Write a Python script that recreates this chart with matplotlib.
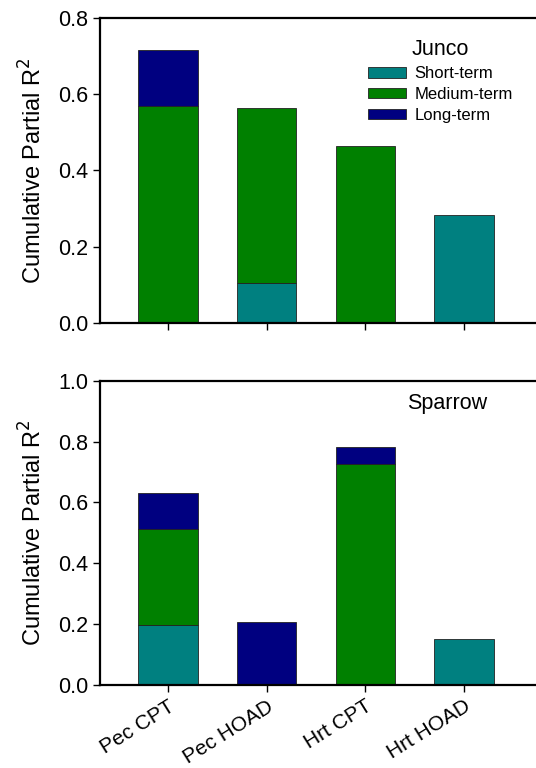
import numpy as np
import matplotlib.pyplot as plt

plt.rcParams['font.family'] = ['Liberation Sans', 'DejaVu Sans']

categories = ['Pec CPT', 'Pec HOAD', 'Hrt CPT', 'Hrt HOAD']
series_names = ['Short-term', 'Medium-term', 'Long-term']
colors = ['#008080', '#008000', '#000080']

# stacked partial R^2 (short, medium, long)
junco_short = [0.0, 0.104, 0.0, 0.283]
junco_medium = [0.570, 0.459, 0.464, 0.0]
junco_long = [0.146, 0.0, 0.0, 0.0]

sparrow_short = [0.196, 0.0, 0.0, 0.150]
sparrow_medium = [0.318, 0.0, 0.726, 0.0]
sparrow_long = [0.118, 0.208, 0.055, 0.0]

junco_ticks = [0.0, 0.2, 0.4, 0.6, 0.8]
sparrow_ticks = [0.0, 0.2, 0.4, 0.6, 0.8, 1.0]


def stacked(ax, parts):
    x = np.arange(len(categories))
    bottom = np.zeros(len(categories))
    for vals, name, col in zip(parts, series_names, colors):
        vals = np.array(vals)
        idx = vals > 0
        ax.bar(x[idx], vals[idx], width=0.6, bottom=bottom[idx], color=col,
               edgecolor='#222222', linewidth=0.6, label=name)
        bottom = bottom + vals
    ax.set_xlim(-0.69, 3.82)
    ax.set_xticks(x)
    for s in ['left', 'bottom', 'top']:
        ax.spines[s].set_linewidth(1.6)
    ax.spines['right'].set_visible(False)
    ax.tick_params(axis='both', direction='out', length=5, width=1, labelsize=15.5)
    ax.set_ylabel('Cumulative Partial R$^2$', fontsize=17, labelpad=8)


fig = plt.figure(figsize=(5.36, 7.68), dpi=100)
ax1 = fig.add_axes([0.1866, 0.5794, 0.83, 0.3972])
ax2 = fig.add_axes([0.1866, 0.1081, 0.83, 0.3962])

stacked(ax1, [junco_short, junco_medium, junco_long])
ax1.set_ylim(0, 0.8)
ax1.set_yticks(junco_ticks)
ax1.set_yticklabels([f'{v:.1f}' for v in junco_ticks])
ax1.set_xticklabels([])
leg = ax1.legend(loc='upper left', bbox_to_anchor=(0.576, 0.968), frameon=False,
                 fontsize=12, title='Junco', title_fontsize=15.5,
                 handlelength=2.3, handleheight=0.6, handletextpad=0.5,
                 labelspacing=0.35, borderpad=0.2)

stacked(ax2, [sparrow_short, sparrow_medium, sparrow_long])
ax2.set_ylim(0, 1.0)
ax2.set_yticks(sparrow_ticks)
ax2.set_yticklabels([f'{v:.1f}' for v in sparrow_ticks])
ax2.set_xticklabels(categories, rotation=32, ha='right', rotation_mode='anchor',
                    fontsize=15)
ax2.text(0.78, 0.925, 'Sparrow', transform=ax2.transAxes, fontsize=15.5,
         ha='center', va='center')

fig.savefig('out.png', dpi=100)
